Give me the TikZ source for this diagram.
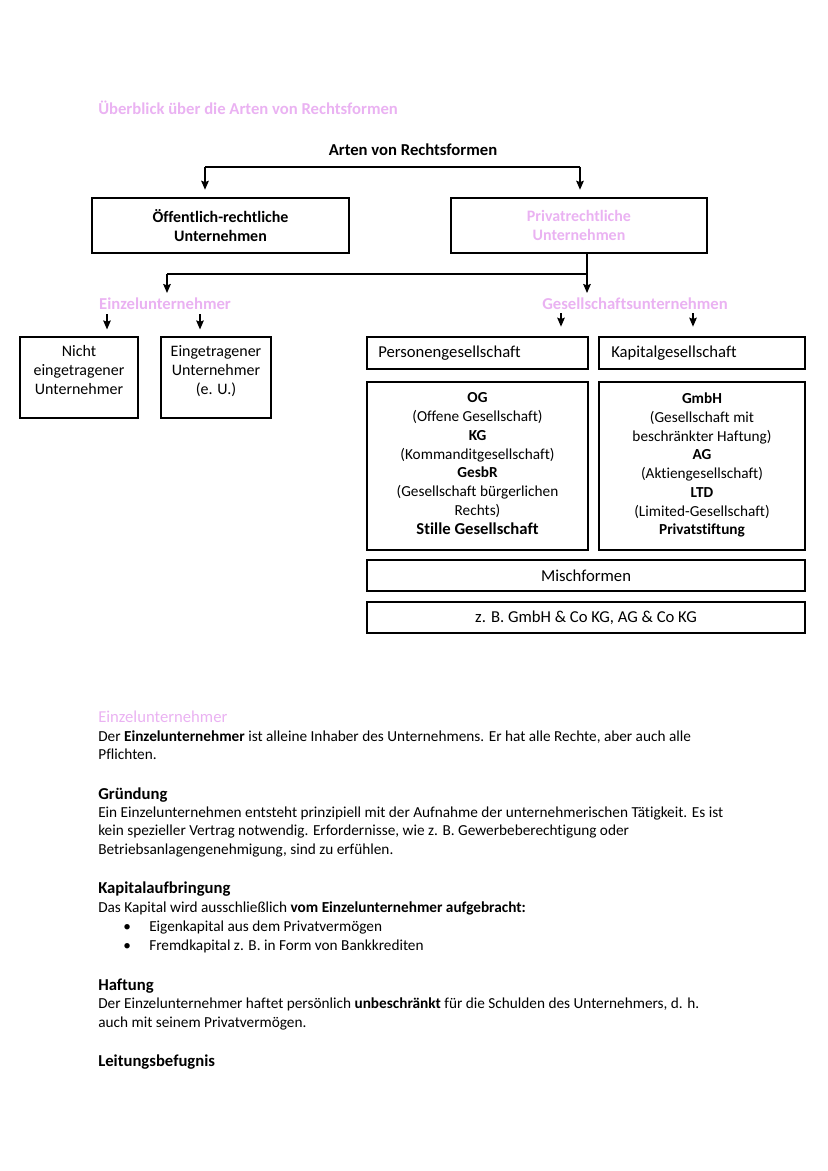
\documentclass[tikz,border=0pt]{standalone}
\usepackage{fontspec}
\setmainfont{Carlito}[Ligatures={NoCommon}]
\usetikzlibrary{arrows.meta}
\definecolor{pinkhead}{RGB}{234,178,242}
\begin{document}
\begin{tikzpicture}[x=0.72pt,y=-0.72pt,
  box/.style={draw,line width=0.9pt,inner sep=0pt,align=center,font=\fontsize{11}{13.5}\selectfont},
  arr/.style={line width=0.9pt,-{Stealth[length=6.5pt,width=5.5pt,inset=1pt]}},
  ln/.style={line width=0.9pt},
  txt/.style={anchor=base west,inner sep=0pt,font=\fontsize{11}{13.5}\selectfont},
  head/.style={anchor=base west,inner sep=0pt,font=\fontsize{12}{14}\selectfont\bfseries},
  pinkt/.style={text=pinkhead,inner sep=0pt}
]
\useasboundingbox (0,0) rectangle (828,1171);

% title
\node[pinkt,anchor=base west,font=\fontsize{12}{14}\selectfont\bfseries] (title) at (98,115) {Überblick über die Arten von Rechtsformen};

\node[inner sep=0pt,font=\fontsize{12}{14}\selectfont\bfseries] (arten) at (413,150) {Arten von Rechtsformen};

\node[box,minimum width=257*0.72pt,minimum height=55*0.72pt,font=\fontsize{11.5}{14.2}\selectfont\bfseries] (oeff) at (220.5,225.5) {Öffentlich-rechtliche\\Unternehmen};
\node[box,minimum width=256*0.72pt,minimum height=55*0.72pt,font=\fontsize{11.5}{14.2}\selectfont\bfseries,text=pinkhead] (priv) at (579,225.5) {Privatrechtliche\\Unternehmen};

\coordinate (h1) at (205,167);
\coordinate (h2) at (580,167);
\draw[ln] (h1) -- (h2);
\draw[arr,shorten >=5.5pt] (h1) -- (h1 |- oeff.north);
\draw[arr,shorten >=5.5pt] (h2) -- (h2 |- priv.north);

% second level
\node[pinkt,font=\fontsize{12}{14}\selectfont\bfseries] (einzel) at (165,304) {Einzelunternehmer};
\node[pinkt,font=\fontsize{12}{14}\selectfont\bfseries] (gesell) at (635,304) {Gesellschaftsunternehmen};

\coordinate (p1) at (587,274);
\coordinate (p2) at (167,274);
\coordinate (p1e) at (587,293);
\coordinate (p2e) at (167,293);
\draw[ln] (priv.south -| p1) -- (p1) -- (p2);
\draw[arr] (p2) -- (p2e);
\draw[arr] (p1) -- (p1e);

% Einzelunternehmer boxes
\node[box,minimum width=118*0.72pt,minimum height=81*0.72pt] (nicht) at (79,377.5) {};
\node[inner sep=0pt,align=center,font=\fontsize{11.5}{13.7}\selectfont,anchor=north] (nichtt) at (79,345.5) {Nicht\\eingetragener\\Unternehmer};
\node[box,minimum width=110*0.72pt,minimum height=81*0.72pt] (eing) at (216,377.5) {};
\node[inner sep=0pt,align=center,font=\fontsize{11.5}{13.7}\selectfont,anchor=north] (eingt) at (216,345.5) {Eingetragener\\Unternehmer\\(e. U.)};

\coordinate (e1) at (107,314);
\coordinate (e2) at (200,314);
\draw[arr,shorten >=5pt] (e1) -- (e1 |- nicht.north);
\draw[arr,shorten >=5pt] (e2) -- (e2 |- eing.north);

% Gesellschaft boxes
\node[box,minimum width=221*0.72pt,minimum height=32*0.72pt] (pers) at (477.5,353) {};
\node[txt,anchor=west,font=\fontsize{12}{14}\selectfont] (perst) at (378,353) {Personengesellschaft};
\node[box,minimum width=206*0.72pt,minimum height=32*0.72pt] (kap) at (702,353) {};
\node[txt,anchor=west,font=\fontsize{12}{14}\selectfont] (kapt) at (611,353) {Kapitalgesellschaft};

\coordinate (g1) at (561,313);
\coordinate (g2) at (693,313);
\draw[arr,shorten >=7pt] (g1) -- (g1 |- pers.north);
\draw[arr,shorten >=7pt] (g2) -- (g2 |- kap.north);

\node[box,minimum width=221*0.72pt,minimum height=168*0.72pt] (og) at (477.5,466) {};
\node[inner sep=0pt,align=center,anchor=north,font=\fontsize{11}{13.5}\selectfont] (ogt) at (477.5,392.5)
 {\textbf{OG}\\(Offene Gesellschaft)\\\textbf{KG}\\(Kommanditgesellschaft)\\\textbf{GesbR}\\(Gesellschaft bürgerlichen\\Rechts)\\{\fontsize{12}{13.5}\selectfont\bfseries Stille Gesellschaft}};
\node[box,minimum width=206*0.72pt,minimum height=168*0.72pt] (gmbh) at (702,466) {};
\node[inner sep=0pt,align=center,anchor=north,font=\fontsize{11}{13.5}\selectfont] (gmbht) at (702,392.5)
 {\textbf{GmbH}\\(Gesellschaft mit\\beschränkter Haftung)\\\textbf{AG}\\(Aktiengesellschaft)\\\textbf{LTD}\\(Limited-Gesellschaft)\\\textbf{Privatstiftung}};

\node[box,minimum width=438*0.72pt,minimum height=31*0.72pt,font=\fontsize{12}{14}\selectfont] (misch) at (586,575.5) {Mischformen};
\node[box,minimum width=438*0.72pt,minimum height=31*0.72pt,font=\fontsize{12}{14}\selectfont] (zb) at (586,617.5) {z. B. GmbH \& Co KG, AG \& Co KG};

% body text
\node[pinkt,anchor=base west,font=\fontsize{12}{14}\selectfont] (b0) at (98,722) {Einzelunternehmer};
\node[txt] (b1) at (98,741) {Der \textbf{Einzelunternehmer} ist alleine Inhaber des Unternehmens. Er hat alle Rechte, aber auch alle};
\node[txt] (b2) at (98,759) {Pflichten.};

\node[head] (h_gr) at (98,799) {Gründung};
\node[txt] (b3) at (98,817) {Ein Einzelunternehmen entsteht prinzipiell mit der Aufnahme der unternehmerischen Tätigkeit. Es ist};
\node[txt] (b4) at (98,835) {kein spezieller Vertrag notwendig. Erfordernisse, wie z. B. Gewerbeberechtigung oder};
\node[txt] (b5) at (98,854) {Betriebsanlagengenehmigung, sind zu erfühlen.};

\node[head] (h_ka) at (98,893) {Kapitalaufbringung};
\node[txt] (b6) at (98,912) {Das Kapital wird ausschließlich \textbf{vom Einzelunternehmer aufgebracht:}};
\node[txt] (bu1) at (123,931) {\textbullet};
\node[txt] (b7) at (149,931) {Eigenkapital aus dem Privatvermögen};
\node[txt] (bu2) at (123,950) {\textbullet};
\node[txt] (b8) at (149,950) {Fremdkapital z. B. in Form von Bankkrediten};

\node[head] (h_ha) at (98,990) {Haftung};
\node[txt] (b9) at (98,1008) {Der Einzelunternehmer haftet persönlich \textbf{unbeschränkt} für die Schulden des Unternehmers, d. h.};
\node[txt] (b10) at (98,1027) {auch mit seinem Privatvermögen.};

\node[head] (h_le) at (98,1066) {Leitungsbefugnis};
\end{tikzpicture}
\end{document}
